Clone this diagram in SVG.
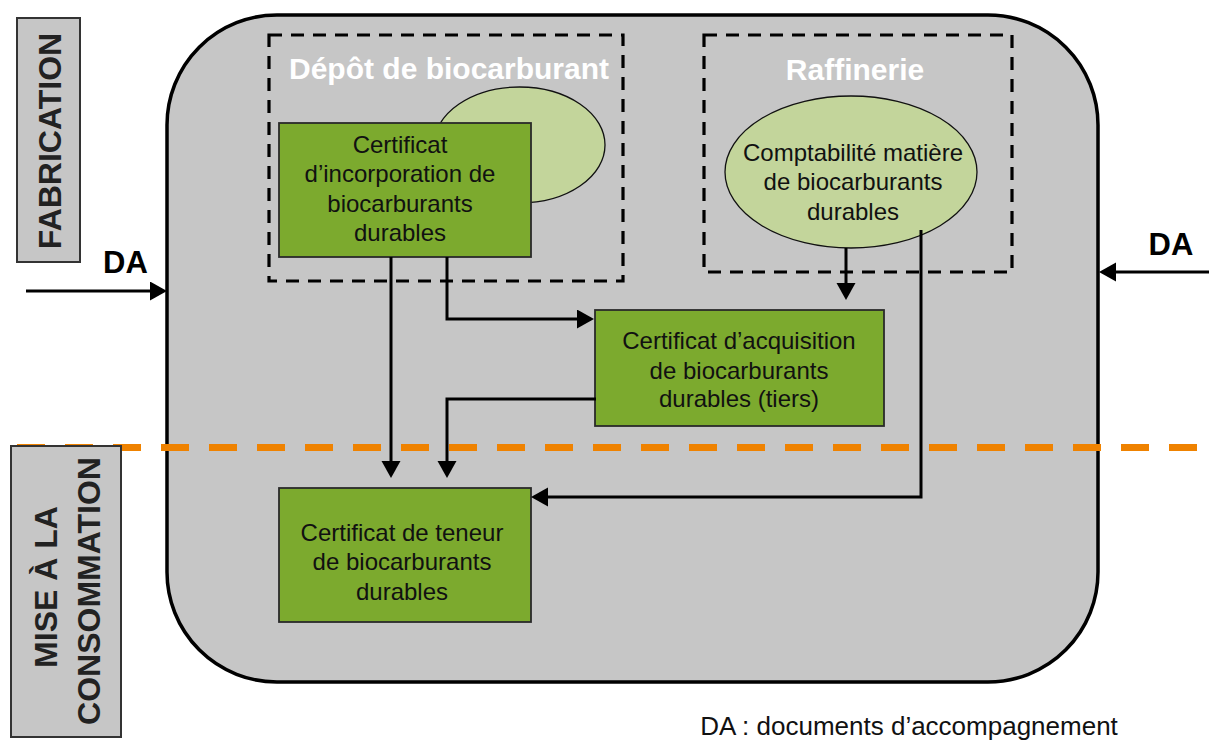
<svg xmlns="http://www.w3.org/2000/svg" width="1209" height="742" viewBox="0 0 1209 742">
<style>
.lbl{font-family:"Liberation Sans",Arial,sans-serif;font-size:24px;fill:#111;text-anchor:middle}
.ttl{font-family:"Liberation Sans",Arial,sans-serif;font-size:30px;font-weight:bold;fill:#fff;text-anchor:middle}
.da{font-family:"Liberation Sans",Arial,sans-serif;font-size:31px;font-weight:bold;fill:#000;text-anchor:middle}
.side{font-family:"Liberation Sans",Arial,sans-serif;font-size:32px;font-weight:bold;fill:#222;text-anchor:middle}
.green{fill:#7caa2e;stroke:#2a2a2a;stroke-width:1.8}
.ell{fill:#c3d59b;stroke:#111;stroke-width:1.3}
.dash{fill:none;stroke:#000;stroke-width:3.2;stroke-dasharray:13 9}
.conn{fill:none;stroke:#000;stroke-width:3}
.sidebox{fill:#c6c6c6;stroke:#333;stroke-width:2}
</style>
<defs>
<marker id="arr" markerUnits="userSpaceOnUse" markerWidth="18" markerHeight="20" refX="9" refY="9.5" orient="auto">
<path d="M0,0 L17,9.5 L0,19 z" fill="#000"/>
</marker>
</defs>
<rect id="frame" x="167" y="15" width="931" height="667" rx="110" ry="110" fill="#c6c6c6" stroke="#000" stroke-width="3.5"/>
<g id="depot">
<rect class="dash" x="269" y="35" width="354" height="246"/>
<text class="ttl" x="449" y="79">Dépôt de biocarburant</text>
</g>
<g id="raffinerie">
<rect class="dash" x="704" y="35" width="308" height="237"/>
<text class="ttl" x="855" y="80">Raffinerie</text>
</g>
<g id="ellipse-depot">
<ellipse class="ell" cx="519.5" cy="145" rx="85.5" ry="58"/>
</g>
<g id="cert-incorporation">
<rect class="green" x="279" y="123" width="252" height="134"/>
<text class="lbl" x="400" y="153">Certificat</text>
<text class="lbl" x="400" y="182">d’incorporation de</text>
<text class="lbl" x="400" y="212">biocarburants</text>
<text class="lbl" x="400" y="241">durables</text>
</g>
<g id="comptabilite">
<ellipse class="ell" cx="851" cy="172" rx="126" ry="76"/>
<text class="lbl" x="853" y="161">Comptabilité matière</text>
<text class="lbl" x="853" y="190">de biocarburants</text>
<text class="lbl" x="853" y="220">durables</text>
</g>
<g id="cert-acquisition">
<rect class="green" x="595" y="310" width="289" height="116"/>
<text class="lbl" x="739" y="349">Certificat d’acquisition</text>
<text class="lbl" x="739" y="379">de biocarburants</text>
<text class="lbl" x="739" y="407">durables (tiers)</text>
</g>
<g id="cert-teneur">
<rect class="green" x="279" y="488" width="252" height="134"/>
<text class="lbl" x="402" y="541">Certificat de teneur</text>
<text class="lbl" x="402" y="570">de biocarburants</text>
<text class="lbl" x="402" y="600">durables</text>
</g>
<line id="separator" x1="17" y1="447.5" x2="1209" y2="447.5" stroke="#ef8200" stroke-width="7" stroke-dasharray="28 20"/>
<g id="fabrication">
<rect class="sidebox" x="17" y="18" width="63" height="244"/>
<text class="side" transform="translate(61,141) rotate(-90)">FABRICATION</text>
</g>
<g id="mise">
<rect class="sidebox" x="11" y="446" width="110" height="291"/>
<text class="side" transform="translate(57,587) rotate(-90)">MISE À LA</text>
<text class="side" transform="translate(100,591) rotate(-90)">CONSOMMATION</text>
</g>
<g id="da-left">
<text class="da" x="125.5" y="273">DA</text>
</g>
<g id="da-right">
<text class="da" x="1171" y="255">DA</text>
</g>
<g id="connectors">
<path class="conn" d="M26,291 H159" marker-end="url(#arr)"/>
<path class="conn" d="M1209,272 H1107" marker-end="url(#arr)"/>
<path class="conn" d="M391,257 V470" marker-end="url(#arr)"/>
<path class="conn" d="M447,257 V319 H586" marker-end="url(#arr)"/>
<path class="conn" d="M596,399 H447 V470" marker-end="url(#arr)"/>
<path class="conn" d="M846,248 V292" marker-end="url(#arr)"/>
<path class="conn" d="M921,230 V497 H539" marker-end="url(#arr)"/>
</g>
<text id="legend" class="lbl" x="909" y="735" style="font-size:26px">DA : documents d’accompagnement</text>
</svg>
